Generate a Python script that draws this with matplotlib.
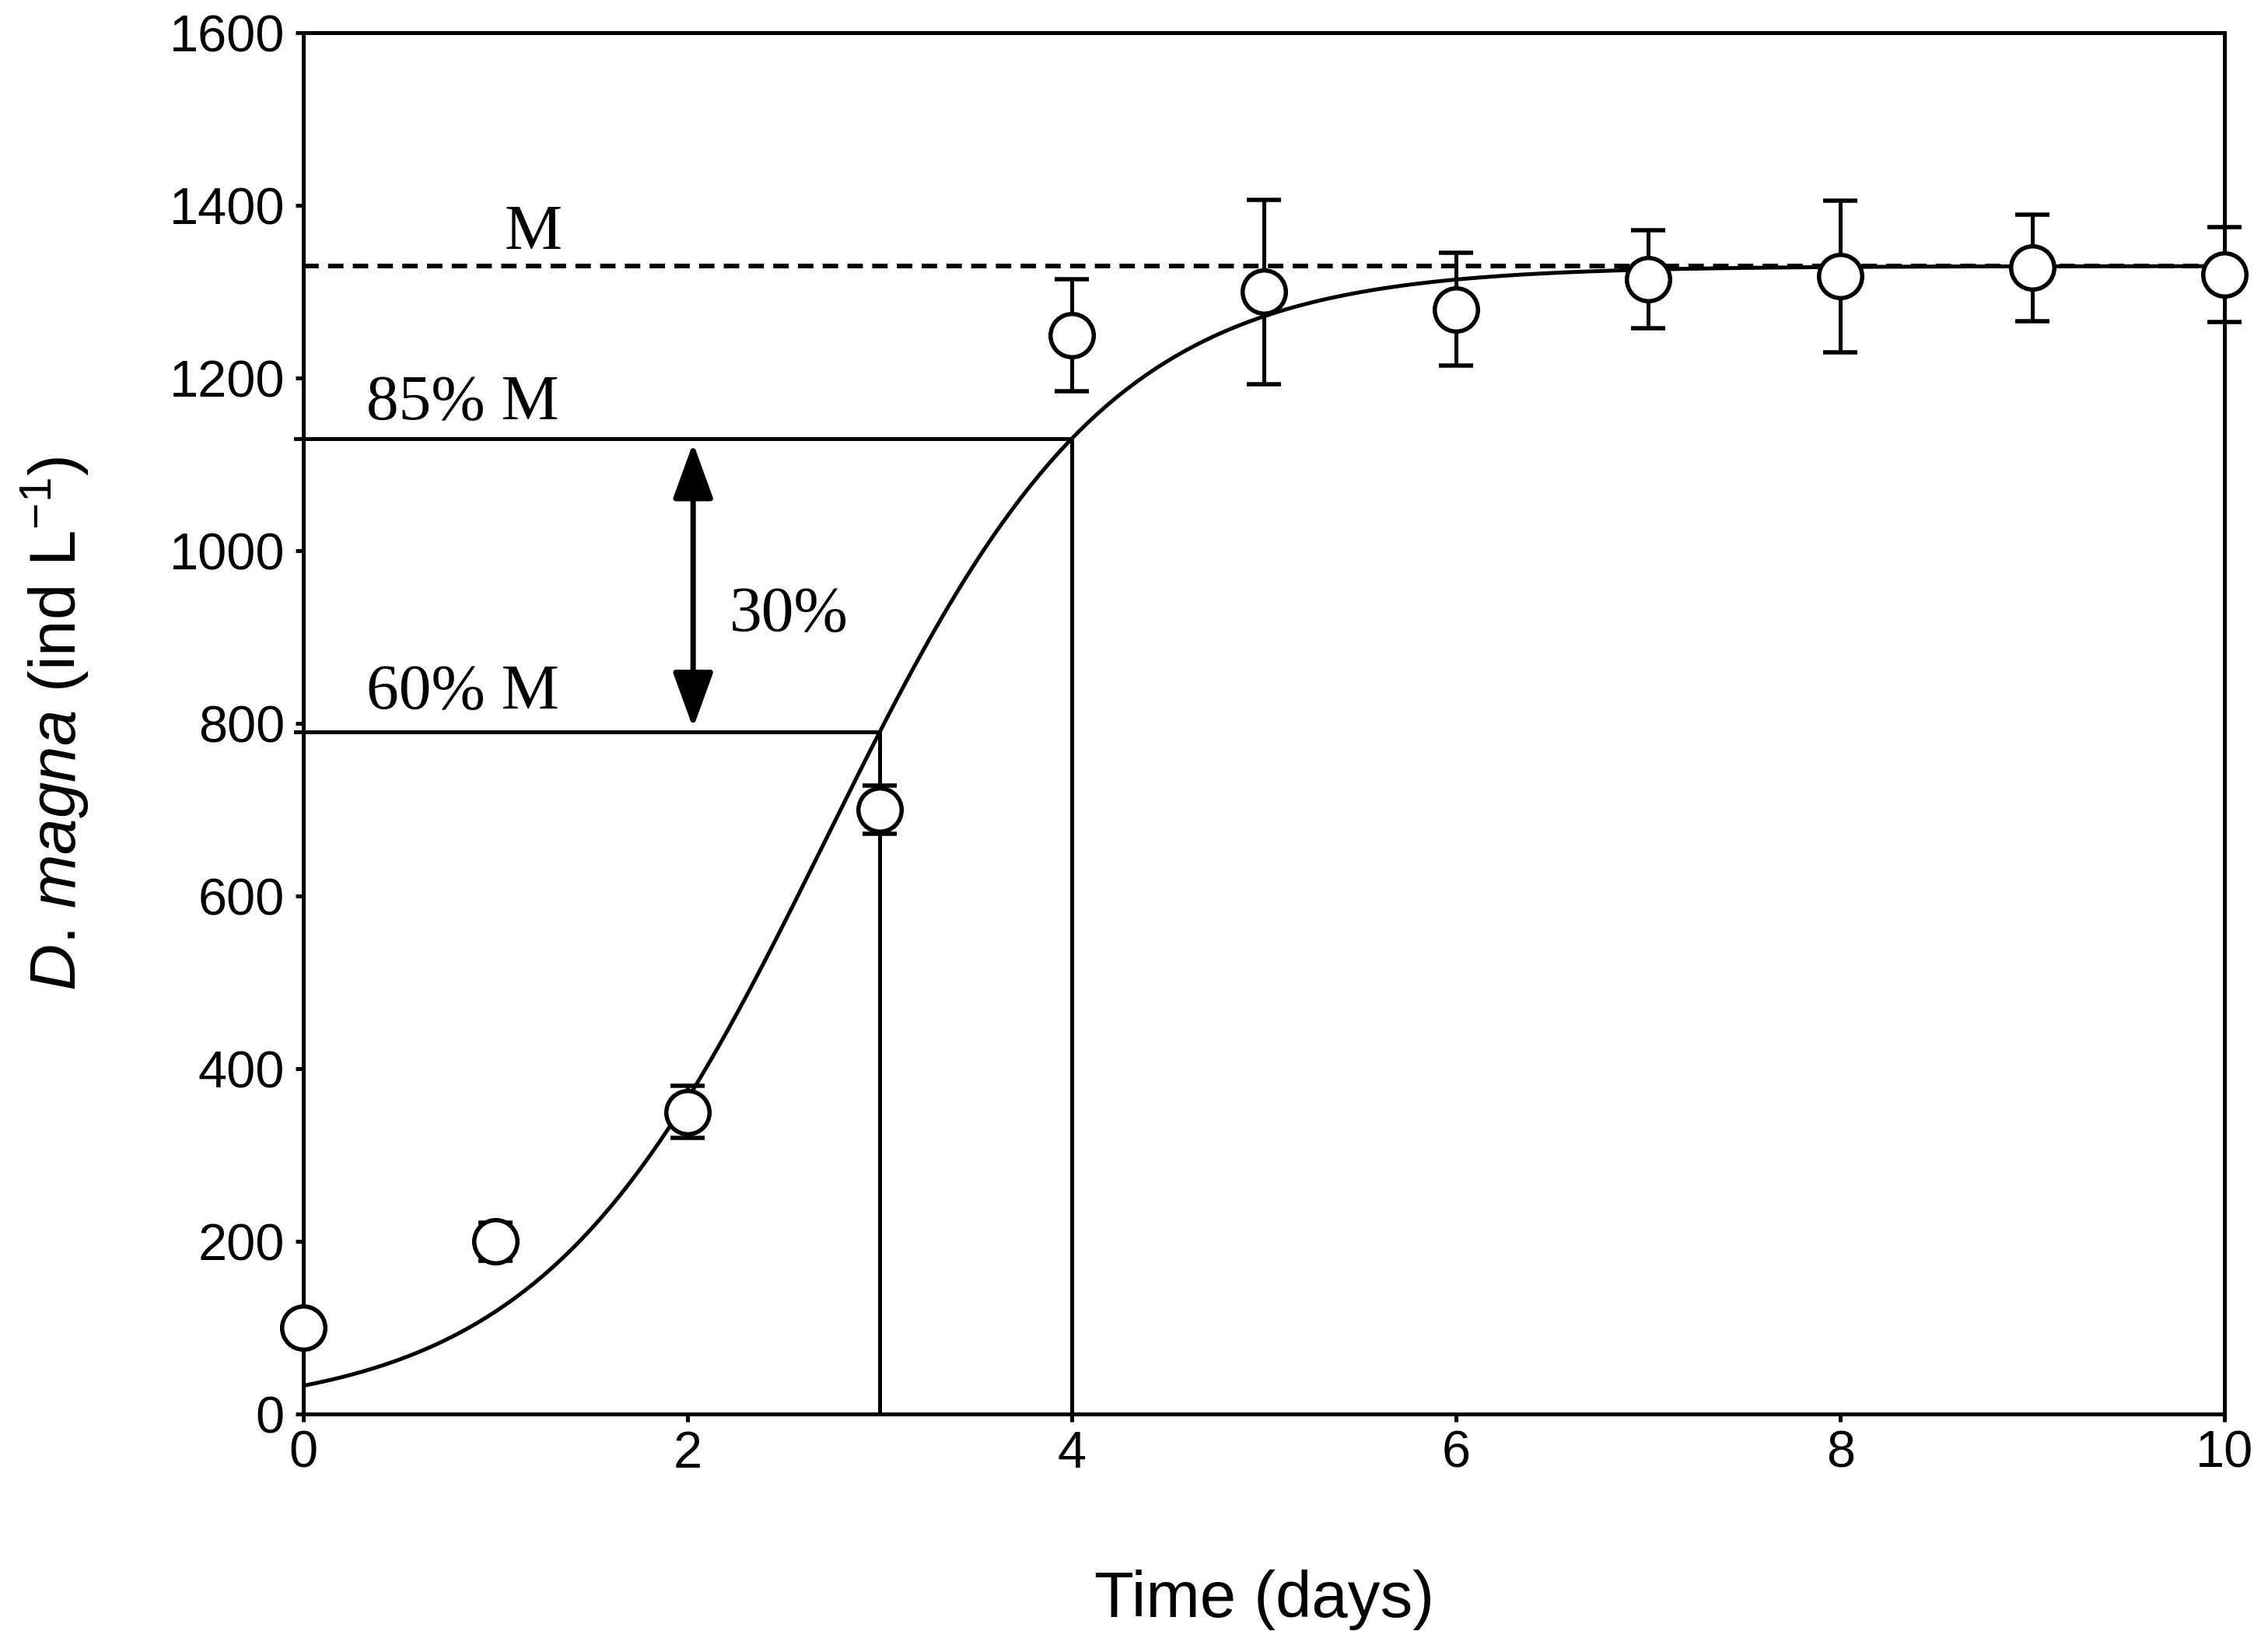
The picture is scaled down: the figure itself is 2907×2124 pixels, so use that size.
import numpy as np
import matplotlib
matplotlib.use('Agg')
import matplotlib.pyplot as plt

plt.rcParams['font.family'] = 'Liberation Sans'
plt.rcParams['mathtext.fontset'] = 'custom'
plt.rcParams['mathtext.rm'] = 'Liberation Sans'
plt.rcParams['mathtext.it'] = 'Liberation Sans:italic'

days = [0, 1, 2, 3, 4, 5, 6, 7, 8, 9, 10]
density = [100, 200, 350, 700, 1250, 1300, 1280, 1315, 1318, 1328, 1320]
density_err = [0, 22, 30, 28, 65, 107, 65, 57, 88, 62, 55]

# logistic fit: M / (1 + exp(-r (t - t0)))
M = 1330
r = 1.352
t0 = 2.719
m60 = 790
m85 = 1130

t = np.linspace(0, 10, 400)
fit = M / (1 + np.exp(-r * (t - t0)))

fig = plt.figure(figsize=(14.535, 10.62), dpi=200)
ax = fig.add_axes([0.134, 0.144, 0.850, 0.836])

lw = 1.8
ax.plot(t, fit, color='black', lw=lw)
ax.axhline(M, color='black', lw=lw * 1.2, ls=(0, (3.3, 2.0)))

# 60% and 85% of M guide lines
ax.plot([-0.04, 3, 3], [m60, m60, 0], color='black', lw=lw, clip_on=False)
ax.plot([-0.04, 4, 4], [m85, m85, 0], color='black', lw=lw, clip_on=False)

ax.annotate('', xy=(2.03, m60 + 5), xytext=(2.03, m85 - 5),
            arrowprops=dict(arrowstyle='<|-|>,head_length=0.55,head_width=0.2',
                            color='black', lw=lw * 1.4,
                            mutation_scale=40, shrinkA=0, shrinkB=0))

serif = dict(family='Liberation Serif', fontsize=30, color='black')
ax.text(1.2, 1350, 'M', ha='center', va='baseline', **serif)
ax.text(0.33, 1153, '85% M', ha='left', va='baseline', **serif)
ax.text(0.33, 817, '60% M', ha='left', va='baseline', **serif)
ax.text(2.22, 925, '30%', ha='left', va='center', **serif)

ax.errorbar(days, density, yerr=density_err, fmt='o', ms=20, mfc='white',
            mec='black', mew=lw * 1.1, ecolor='black', elinewidth=lw,
            capsize=8, capthick=lw * 1.3, clip_on=False, zorder=5)

ax.set_xlim(0, 10)
ax.set_ylim(0, 1600)
ax.set_xticks(range(0, 11, 2))
ax.set_yticks(range(0, 1601, 200))
ax.tick_params(direction='out', length=3.5, width=lw, labelsize=24, pad=5,
               top=False, right=False)
ax.tick_params(axis='x', pad=4)
for s in ax.spines.values():
    s.set_linewidth(lw)

ax.set_xlabel('Time (days)', fontsize=30, labelpad=42)
ax.set_ylabel(r'$\it{D}$. $\it{magna}$ (ind L$^{-1}$)', fontsize=30, labelpad=36)

fig.savefig('out.png', dpi=200)
